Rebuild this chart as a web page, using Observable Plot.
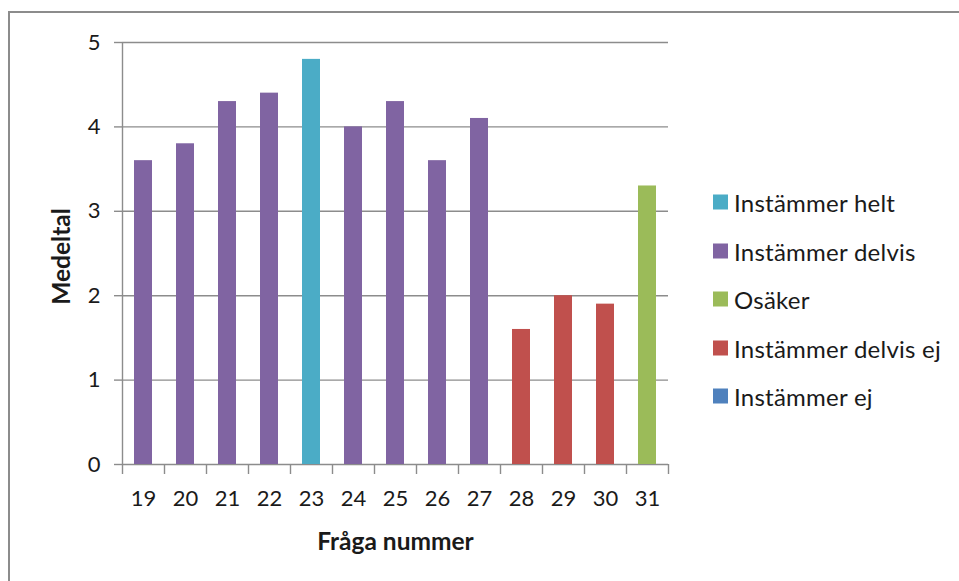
<!DOCTYPE html>
<html>
<head>
<meta charset="utf-8">
<script src="https://cdn.jsdelivr.net/npm/d3@7"></script>
<script src="https://cdn.jsdelivr.net/npm/@observablehq/plot@0.6"></script>
<style>
  body { margin: 0; background: #fff; }
  #wrap { position: relative; width: 959px; height: 581px; overflow: hidden; font-family: Lato, "Open Sans", sans-serif; }
  #frame { position: absolute; left: 8px; top: 11px; width: 1000px; height: 700px; border: 2px solid #8c8c8c; box-sizing: border-box; }
  #chart { position: absolute; left: 0; top: 0; }
  #legend { position: absolute; left: 713px; top: 0; }
  .row { position: absolute; left: 0; display: flex; align-items: center; white-space: nowrap; font-size: 24px; letter-spacing: 0.25px; color: #1a1a1a; transform: translateY(-50%); }
  .sw { width: 15px; height: 15px; margin-right: 6px; flex: none; }
</style>
</head>
<body>
<div id="wrap">
  <div id="frame"></div>
  <div id="chart"></div>
  <div id="legend"></div>
</div>
<script>
// Data
const questions = ["19", "20", "21", "22", "23", "24", "25", "26", "27", "28", "29", "30", "31"];
const means = [3.6, 3.8, 4.3, 4.4, 4.8, 4.0, 4.3, 3.6, 4.1, 1.6, 2.0, 1.9, 3.3];
const answers = [
  "Instämmer delvis", "Instämmer delvis", "Instämmer delvis", "Instämmer delvis",
  "Instämmer helt", "Instämmer delvis", "Instämmer delvis", "Instämmer delvis",
  "Instämmer delvis", "Instämmer delvis ej", "Instämmer delvis ej", "Instämmer delvis ej",
  "Osäker"
];
const legendLabels = ["Instämmer helt", "Instämmer delvis", "Osäker", "Instämmer delvis ej", "Instämmer ej"];
const legendColors = ["#4BACC6", "#8064A2", "#9BBB59", "#C0504D", "#4F81BD"];
const yTicks = [0, 1, 2, 3, 4, 5];
const xTitle = "Fråga nummer";
const yTitle = "Medeltal";

const rows = questions.map((q, i) => ({i, q, mean: means[i], answer: answers[i]}));
const boundaries = d3.range(questions.length + 1);
const centers = questions.map((q, i) => i + 0.5);

const chart = Plot.plot({
  width: 959,
  height: 581,
  marginLeft: 122,
  marginRight: 291,
  marginTop: 42,
  marginBottom: 117,
  style: { fontFamily: "Lato, 'Open Sans', sans-serif", fontSize: "22px", color: "#1a1a1a", background: "transparent" },
  x: { domain: [0, questions.length], axis: null },
  y: { domain: [0, 5], axis: null },
  color: { domain: legendLabels, range: legendColors },
  marks: [
    Plot.gridY(yTicks, { stroke: "#8c8c8c", strokeOpacity: 1, strokeWidth: 1.4 }),
    Plot.axisY(yTicks, { tickSize: 8, tickPadding: 14, stroke: "#8c8c8c", strokeWidth: 1.4, tickFormat: d => String(d), label: null, fontSize: 22 }),
    Plot.ruleX([0], { stroke: "#8c8c8c", strokeWidth: 1.4 }),
    Plot.axisX(boundaries, { tickSize: 10, tickFormat: () => "", stroke: "#8c8c8c", strokeWidth: 1.4, label: null }),
    Plot.axisX(centers, { tickSize: 0, tickPadding: 26, tickFormat: d => questions[Math.floor(d)], label: null, fontSize: 22 }),
    Plot.rectY(rows, { x1: "i", x2: d => d.i + 1, y1: 0, y2: "mean", fill: "answer", insetLeft: 12, insetRight: 12 }),
    Plot.text([xTitle], { frameAnchor: "bottom", dy: 78, textAnchor: "middle", lineAnchor: "middle", fontWeight: "bold", fontSize: 24.5, fill: "#1a1a1a" }),
    Plot.text([yTitle], { frameAnchor: "left", dx: -60, dy: 3, rotate: -90, textAnchor: "middle", lineAnchor: "middle", fontWeight: "bold", fontSize: 24.5, fill: "#1a1a1a" })
  ]
});
document.getElementById("chart").appendChild(chart);

// Legend
const legend = document.getElementById("legend");
legendLabels.forEach((lab, k) => {
  const row = document.createElement("div");
  row.className = "row";
  row.style.top = (202 + k * 48.5) + "px";
  const sw = document.createElement("div");
  sw.className = "sw";
  sw.style.background = legendColors[k];
  const t = document.createElement("span");
  t.textContent = lab;
  row.appendChild(sw);
  row.appendChild(t);
  legend.appendChild(row);
});
</script>
</body>
</html>
